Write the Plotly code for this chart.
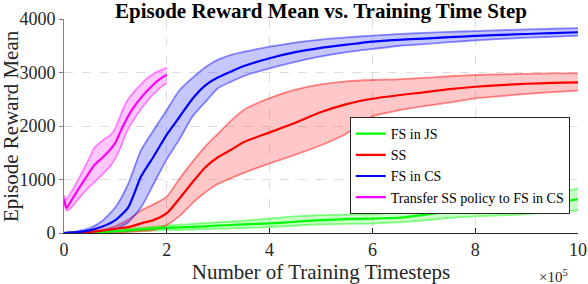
import plotly.graph_objects as go

# ---------------- data (x in units of 1e5 timesteps) ----------------
x_grid = [0, 0.25, 0.5, 0.75, 1.0, 1.25, 1.5, 1.75, 2.0, 2.25, 2.5, 2.75, 3.0,
          3.25, 3.5, 4.0, 4.5, 5.0, 5.5, 6.0, 6.5, 7.0, 7.5, 8.0, 8.5, 9.0, 9.5, 10.0]

js_mean  = [0, 2, 8, 20, 35, 50, 70, 85, 95, 105, 115, 125, 140,
            150, 160, 180, 210, 240, 260, 270, 285, 340, 400, 412, 445, 495, 560, 631]
js_upper = [0, 6, 15, 35, 55, 80, 100, 120, 140, 155, 170, 185, 200,
            215, 230, 270, 310, 335, 345, 355, 390, 460, 525, 550, 595, 650, 730, 831]
js_lower = [0, 0, 3, 8, 15, 28, 40, 48, 55, 60, 65, 72, 80,
            88, 95, 110, 140, 160, 170, 178, 200, 235, 285, 312, 330, 352, 385, 425]

ss_mean  = [0, 5, 18, 45, 80, 110, 180, 245, 370, 650, 950, 1230, 1420,
            1555, 1700, 1880, 2060, 2260, 2410, 2510, 2575, 2630, 2690, 2734, 2765, 2790, 2805, 2816]
ss_upper = [0, 10, 30, 60, 130, 250, 420, 540, 680, 1018, 1330, 1620, 1860,
            2100, 2300, 2520, 2680, 2780, 2835, 2860, 2872, 2900, 2930, 2953, 2965, 2975, 2982, 2985]
ss_lower = [0, 0, 0, 5, 10, 20, 35, 55, 150, 320, 560, 760, 920,
            1025, 1125, 1300, 1465, 1640, 1860, 2180, 2290, 2370, 2440, 2517, 2560, 2600, 2635, 2660]

cs_mean  = [0, 15, 50, 120, 240, 480, 1060, 1440, 1840, 2173, 2510, 2760, 2910,
            3020, 3120, 3266, 3380, 3460, 3520, 3577, 3610, 3635, 3660, 3683, 3703, 3720, 3737, 3752]
cs_upper = [0, 30, 90, 230, 480, 920, 1550, 1930, 2300, 2672, 2900, 3100, 3240,
            3328, 3385, 3483, 3560, 3615, 3655, 3690, 3718, 3740, 3758, 3775, 3790, 3805, 3818, 3830]
cs_lower = [0, 5, 15, 30, 70, 200, 480, 930, 1380, 1760, 2180, 2450, 2710,
            2830, 2935, 3078, 3200, 3300, 3380, 3440, 3495, 3530, 3568, 3600, 3627, 3650, 3668, 3689]

tr_x     = [0, 0.05, 0.15, 0.3, 0.45, 0.6, 0.75, 0.9, 1.0, 1.1, 1.2, 1.3, 1.4,
            1.5, 1.6, 1.7, 1.8, 1.9, 2.0]
tr_mean  = [640, 470, 620, 850, 1070, 1280, 1410, 1560, 1690, 1900, 2100, 2270, 2410,
            2530, 2640, 2740, 2830, 2900, 2960]
tr_upper = [700, 640, 780, 1040, 1320, 1600, 1730, 1830, 1960, 2200, 2420, 2570, 2680,
            2780, 2880, 2950, 3010, 3050, 3090]
tr_lower = [560, 420, 480, 660, 820, 960, 1100, 1250, 1400, 1600, 1850, 2030, 2180,
            2320, 2440, 2560, 2650, 2740, 2800]

series_names = ["FS in JS", "SS", "FS in CS", "Transfer SS policy to FS in CS"]
x_ticks = [0, 2, 4, 6, 8, 10]
y_ticks = [0, 1000, 2000, 3000, 4000]

series = [
    (series_names[0], x_grid, js_mean, js_upper, js_lower, (0, 255, 0)),
    (series_names[1], x_grid, ss_mean, ss_upper, ss_lower, (255, 0, 0)),
    (series_names[2], x_grid, cs_mean, cs_upper, cs_lower, (0, 0, 255)),
    (series_names[3], tr_x, tr_mean, tr_upper, tr_lower, (255, 0, 255)),
]

FONT = "Liberation Serif, Times New Roman, serif"

fig = go.Figure()
for name, xs, m, up, lo, (r, g, b) in series:
    edge = f"rgba({r},{g},{b},0.45)"
    fill = f"rgba({r},{g},{b},0.22)"
    fig.add_trace(go.Scatter(x=xs, y=up, mode="lines",
                             line=dict(color=edge, width=1.8, shape="spline", smoothing=0.6),
                             showlegend=False, hoverinfo="skip"))
    fig.add_trace(go.Scatter(x=xs, y=lo, mode="lines",
                             line=dict(color=edge, width=1.8, shape="spline", smoothing=0.6),
                             fill="tonexty", fillcolor=fill, showlegend=False, hoverinfo="skip"))
for name, xs, m, up, lo, (r, g, b) in series:
    fig.add_trace(go.Scatter(x=xs, y=m, mode="lines", name=name,
                             line=dict(color=f"rgb({r},{g},{b})", width=2.2,
                                       shape="spline", smoothing=0.6)))

fig.update_layout(
    width=588, height=284,
    margin=dict(l=64, r=10, t=19, b=51, autoexpand=False),
    paper_bgcolor="white", plot_bgcolor="white",
    font=dict(family=FONT, color="#262626"),
    title=dict(text="<b>Episode Reward Mean vs. Training Time Step</b>",
               font=dict(family=FONT, size=21, color="black"),
               x=0.5, xref="paper", xanchor="center",
               y=1.0, yref="container", yanchor="top", pad=dict(t=3, b=0)),
    showlegend=True,
    legend=dict(x=0.984, xanchor="right", y=0.542, yanchor="top",
                bgcolor="white", bordercolor="#262626", borderwidth=1,
                font=dict(family=FONT, size=14, color="black"),
                itemwidth=30, tracegroupgap=0, traceorder="normal"),
)
fig.update_xaxes(
    range=[0, 10], tickvals=x_ticks, ticktext=[str(v) for v in x_ticks],
    automargin=False,
    showgrid=True, gridcolor="#dcdcdc", griddash="dash", gridwidth=1,
    showline=True, linecolor="#262626", linewidth=1,
    ticks="inside", ticklen=5, tickcolor="#262626",
    tickfont=dict(family=FONT, size=18, color="#262626"),
    zeroline=False,
    title=dict(text="Number of Training Timesteps", font=dict(family=FONT, size=21, color="#262626"),
               standoff=2),
)
fig.update_yaxes(
    range=[0, 4000], tickvals=y_ticks, ticktext=[str(v) for v in y_ticks],
    automargin=False,
    showgrid=True, gridcolor="#dcdcdc", griddash="dash", gridwidth=1,
    showline=True, linecolor="#808080", linewidth=1,
    ticks="outside", ticklen=4, tickcolor="#808080",
    tickfont=dict(family=FONT, size=18, color="#262626"),
    zeroline=False,
)
fig.add_annotation(text="Episode Reward Mean", textangle=-90, xref="paper", yref="paper",
                   x=-0.103, y=0.5, xanchor="center", yanchor="middle", showarrow=False,
                   font=dict(family=FONT, size=21, color="#262626"))
fig.add_annotation(text="×10<sup>5</sup>", xref="paper", yref="paper",
                   x=0.92, y=-0.15, xanchor="left", yanchor="top", showarrow=False,
                   font=dict(family=FONT, size=15, color="#262626"))

fig.write_html("out.html", config={"displayModeBar": False},
               post_script="document.body.style.margin='0px';")
